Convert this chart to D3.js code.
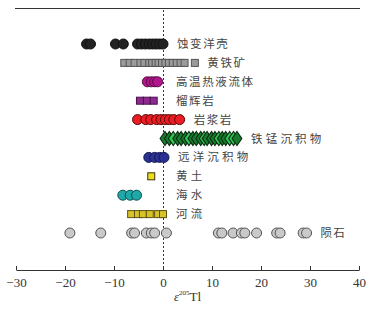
<!DOCTYPE html>
<meta charset="utf-8">
<script src="https://d3js.org/d3.v7.min.js"></script>
<style>
  body { margin: 0; background: #fff; }
</style>
<div id="my_dataviz"></div>
<script>

// categories, top to bottom
var categories = ["蚀变洋壳", "黄铁矿", "高温热液流体", "榴辉岩", "岩浆岩", "铁锰沉积物",
                  "远洋沉积物", "黄土", "海水", "河流", "陨石"];

// ε205Tl values
var alteredCrust   = [-15.6, -14.8, -9.7, -8.1, -5.2, -4.4, -3.6, -2.8, -2.1, -1.4, -0.7, 0];
var pyrite         = [-7.9, -6.8, -5.8, -4.6, -3.8, -2.8, -2.2, -1.5, -0.9, -0.2, 0.5, 1.2, 2.0, 2.8, 3.6, 4.4, 6.5];
var hydrothermal   = [-3.2, -2.4, -1.7, -1.1];
var eclogite       = [-4.7, -3.3, -1.9];
var magmatic       = [-5.2, -3.5, -2.5, -1.3, -0.4, 0.5, 1.3, 2.2, 3.4];
var femnDeposit    = [0.4, 1.3, 2.1, 3.0, 3.7, 4.6, 5.3, 6.1, 6.8, 7.7, 8.4, 9.0, 9.9, 10.6, 11.4, 12.1, 12.8, 13.6, 14.4, 15.1];
var pelagic        = [-2.9, -1.7, -0.7, 0.2];
var loess          = [-2.4];
var seawater       = [-8.2, -6.7, -5.4];
var river          = [-6.5, -5.1, -4.1, -2.7, -1.0, 0];
var meteorite      = [-19.0, -12.7, -6.4, -5.8, -3.4, -2.4, -1.7, 0.7, 11.3, 12.0, 14.3, 16.0, 16.7, 19.1, 23.2, 23.9, 28.6, 29.3];

var xTicks = [-30, -20, -10, 0, 10, 20, 30, 40];

var series = [
  {name: categories[0],  values: alteredCrust, shape: "circle",  fill: "#222222", stroke: "#111111", ls: 1.6},
  {name: categories[1],  values: pyrite,       shape: "square",  fill: "#9b9b9b", stroke: "#555555", ls: 1.6},
  {name: categories[2],  values: hydrothermal, shape: "circle",  fill: "#b3168c", stroke: "#5a0b46", ls: 1.6},
  {name: categories[3],  values: eclogite,     shape: "square",  fill: "#8e2a8e", stroke: "#4a1050", ls: 1.6},
  {name: categories[4],  values: magmatic,     shape: "circle",  fill: "#ea1c24", stroke: "#5a0a0a", ls: 1.6},
  {name: categories[5],  values: femnDeposit,  shape: "diamond", fill: "#177a2e", stroke: "#0a2a10", ls: 3.2},
  {name: categories[6],  values: pelagic,      shape: "circle",  fill: "#2b3192", stroke: "#141850", ls: 3.2},
  {name: categories[7],  values: loess,        shape: "square",  fill: "#ecdc1e", stroke: "#3a3505", ls: 3.2},
  {name: categories[8],  values: seawater,     shape: "circle",  fill: "#1fa8a8", stroke: "#0b4c4c", ls: 3.2},
  {name: categories[9],  values: river,        shape: "square",  fill: "#d6c229", stroke: "#5e5210", ls: 3.2},
  {name: categories[10], values: meteorite,    shape: "circle",  fill: "#c9c9c9", stroke: "#555555", ls: 1.2}
];

var W = 374, H = 309;
var svg = d3.select("#my_dataviz")
  .append("svg")
    .attr("width", W)
    .attr("height", H);

var x = d3.scaleLinear()
  .domain([-30, 40])
  .range([16, 359]);

var y = d3.scalePoint()
  .domain(categories)
  .range([44, 233]);

var axisY = 270;

// top frame line
svg.append("line")
  .attr("x1", 15).attr("x2", 360)
  .attr("y1", 8.5).attr("y2", 8.5)
  .attr("stroke", "#333").attr("stroke-width", 1);

// dotted zero line
svg.append("line")
  .attr("x1", x(0) + 0.5).attr("x2", x(0) + 0.5)
  .attr("y1", 10).attr("y2", axisY - 2)
  .attr("stroke", "#333")
  .attr("stroke-width", 1)
  .attr("stroke-dasharray", "2,2");

// X axis, ticks pointing up
var xAxis = svg.append("g")
  .attr("transform", "translate(0," + axisY + ")")
  .call(d3.axisTop(x).tickValues(xTicks).tickSize(4).tickSizeOuter(0).tickFormat(d3.format("d")));
xAxis.select(".domain").attr("stroke", "#333");
xAxis.selectAll(".tick line").attr("stroke", "#333");
xAxis.selectAll(".tick text")
  .attr("y", 17)
  .attr("dy", 0)
  .style("font-family", "'Liberation Serif', 'DejaVu Serif', serif")
  .style("font-size", "13px")
  .style("fill", "#333");

// axis title: ε205Tl
var title = svg.append("text")
  .attr("x", (x(-30) + x(40)) / 2)
  .attr("y", 301)
  .attr("text-anchor", "middle")
  .style("font-family", "'Liberation Serif', 'DejaVu Serif', serif")
  .style("font-size", "13px")
  .style("fill", "#333");
title.append("tspan").style("font-style", "italic").text("ε");
title.append("tspan").attr("dy", -6).style("font-size", "7px").text("205");
title.append("tspan").attr("dy", 6).text("Tl");

var r = 5, sq = 7;
var diamond = d3.symbol().type(d3.symbolDiamond).size(58);

series.forEach(function (s) {
  var g = svg.append("g");
  var cy = y(s.name);
  var sel = g.selectAll("mark").data(s.values).enter();
  if (s.shape === "circle") {
    sel.append("circle")
      .attr("cx", function (d) { return x(d); })
      .attr("cy", cy)
      .attr("r", r)
      .style("fill", s.fill)
      .style("stroke", s.stroke)
      .style("stroke-width", 1);
  } else if (s.shape === "square") {
    sel.append("rect")
      .attr("x", function (d) { return x(d) - sq / 2; })
      .attr("y", cy - sq / 2)
      .attr("width", sq)
      .attr("height", sq)
      .style("fill", s.fill)
      .style("stroke", s.stroke)
      .style("stroke-width", 1);
  } else {
    sel.append("path")
      .attr("d", diamond)
      .attr("transform", function (d) { return "translate(" + x(d) + "," + cy + ") scale(1.2,1)"; })
      .style("fill", function (d, i) { return (i % 4 === 2 || i === 17) ? "#2fc455" : s.fill; })
      .style("stroke", s.stroke)
      .style("stroke-width", 0.9);
  }

  // label sits right of the last mark, but not left of a common column
  var edge = x(d3.max(s.values)) + (s.shape === "square" ? sq / 2 : r);
  svg.append("text")
    .attr("x", Math.max(edge + 9, 176))
    .attr("y", cy + 4)
    .style("font-family", "'Noto Sans CJK SC', sans-serif")
    .style("font-size", "11.5px")
    .style("letter-spacing", s.ls + "px")
    .style("fill", "#444")
    .text(s.name);
});

</script>
